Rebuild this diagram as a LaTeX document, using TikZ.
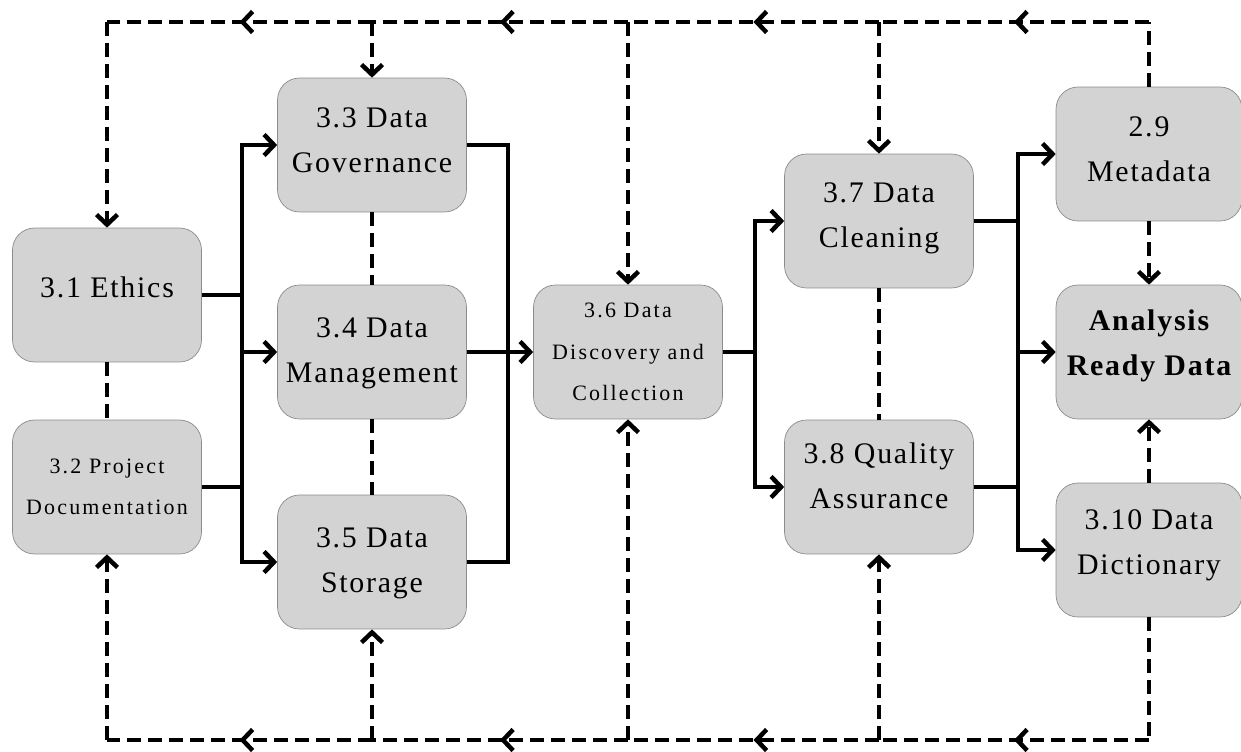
\documentclass[tikz,border=0pt]{standalone}
\usepackage{fontspec}
\setmainfont{Liberation Serif}
\newfontfamily\boxfont[LetterSpace=6]{Liberation Serif}
\newfontfamily\notefont[LetterSpace=10]{Liberation Serif}
\usetikzlibrary{arrows.meta,decorations.markings}
\definecolor{boxgray}{RGB}{211,211,211}
\definecolor{edgegray}{RGB}{140,140,140}
\tikzset{
  stage/.style={draw=edgegray, fill=boxgray, rounded corners=0.44cm,
    minimum width=3.78cm, minimum height=2.68cm, align=center, inner sep=1pt,
    text depth=0.22cm, font=\boxfont\fontsize{17}{25.6}\selectfont},
  stagesmall/.style={stage, text depth=0cm, font=\notefont\fontsize{12.5}{23.5}\selectfont},
  solidline/.style={line width=0.09cm},
  dashline/.style={line width=0.09cm, dash pattern=on 0.28cm off 0.14cm},
  arr/.style={-{Straight Barb[length=0.2cm,width=0.42cm]}},
  midtip/.style={postaction={decorate}, decoration={markings,
    mark=at position 0.5 with {\arrow{Straight Barb[length=0.2cm,width=0.42cm]}}}}
}
\begin{document}
\begin{tikzpicture}[x=0.02cm, y=-0.02cm]
  \useasboundingbox (0,0) rectangle (1241,751);
  % stages
  \node[stage, text depth=0.32cm] (eth) at (107,295) {3.1 Ethics};
  \node[stagesmall] (doc) at (107,487) {3.2 Project\\Documentation};
  \node[stage, text depth=0.18cm] (gov) at (372,145) {3.3 Data\\Governance};
  \node[stage, text depth=0.06cm] (man) at (372,352) {3.4 Data\\Management};
  \node[stage, text depth=0.08cm] (sto) at (372,562) {3.5 Data\\Storage};
  \node[stagesmall] (dis) at (628,352) {3.6 Data\\Discovery and\\Collection};
  \node[stage] (cle) at (879,221) {3.7 Data\\Cleaning};
  \node[stage, text depth=0.44cm] (qua) at (879,487) {3.8 Quality\\Assurance};
  \node[stage, minimum width=3.72cm, text depth=0.18cm] (met) at (1149,154) {2.9\\Metadata};
  \node[stage, minimum width=3.72cm, text depth=0.38cm,
    font=\boxfont\fontsize{17}{25.6}\selectfont\bfseries] (ard) at (1149,352) {Analysis\\Ready Data};
  \node[stage, minimum width=3.72cm, text depth=0.3cm] (dic) at (1149,550) {3.10 Data\\Dictionary};

  % junctions
  \coordinate (ja) at (242,0);
  \coordinate (jb) at (508,0);
  \coordinate (jc) at (755,0);
  \coordinate (jd) at (1018,0);
  \coordinate (upper) at (0,22);
  \coordinate (lower) at (0,740);

  % main flow
  \draw[solidline] (eth.east) -- (eth.east -| ja);
  \draw[solidline] (doc.east) -- (doc.east -| ja);
  \draw[solidline, arr] (man.west -| ja) |- (gov.west);
  \draw[solidline, arr] (man.west -| ja) |- (sto.west);
  \draw[solidline, arr] (man.west -| ja) -- (man.west);
  \draw[solidline] (gov.east) -| (man.east -| jb);
  \draw[solidline] (sto.east) -| (man.east -| jb);
  \draw[solidline, arr] (man.east) -- (dis.west);
  \draw[solidline] (dis.east) -- (dis.east -| jc);
  \draw[solidline, arr] (dis.east -| jc) |- (cle.west);
  \draw[solidline, arr] (dis.east -| jc) |- (qua.west);
  \draw[solidline] (cle.east) -- (cle.east -| jd);
  \draw[solidline] (qua.east) -- (qua.east -| jd);
  \draw[solidline, arr] (ard.west -| jd) |- (met.west);
  \draw[solidline, arr] (ard.west -| jd) |- (dic.west);
  \draw[solidline, arr] (ard.west -| jd) -- (ard.west);

  % links between neighbours
  \draw[dashline] (eth.south) -- (doc.north);
  \draw[dashline] (gov.south) -- (man.north);
  \draw[dashline] (man.south) -- (sto.north);
  \draw[dashline] (cle.south) -- (qua.north);
  \draw[dashline, arr] (met.south) -- (ard.north);
  \draw[dashline, arr] (dic.north) -- (ard.south);

  % feedback along the top
  \draw[dashline] (met.north) -- (met.north |- upper);
  \draw[dashline, midtip] (met.north |- upper) -- (cle.north |- upper);
  \draw[dashline, midtip] (cle.north |- upper) -- (dis.north |- upper);
  \draw[dashline, midtip] (dis.north |- upper) -- (gov.north |- upper);
  \draw[dashline, midtip] (gov.north |- upper) -- (eth.north |- upper);
  \draw[dashline, arr] (eth.north |- upper) -- (eth.north);
  \draw[dashline, arr] (gov.north |- upper) -- (gov.north);
  \draw[dashline, arr] (dis.north |- upper) -- (dis.north);
  \draw[dashline, arr] (cle.north |- upper) -- (cle.north);

  % feedback along the bottom
  \draw[dashline] (dic.south) -- (dic.south |- lower);
  \draw[dashline, midtip] (dic.south |- lower) -- (qua.south |- lower);
  \draw[dashline, midtip] (qua.south |- lower) -- (dis.south |- lower);
  \draw[dashline, midtip] (dis.south |- lower) -- (sto.south |- lower);
  \draw[dashline, midtip] (sto.south |- lower) -- (doc.south |- lower);
  \draw[dashline, arr] (doc.south |- lower) -- (doc.south);
  \draw[dashline, arr] (sto.south |- lower) -- (sto.south);
  \draw[dashline, arr] (dis.south |- lower) -- (dis.south);
  \draw[dashline, arr] (qua.south |- lower) -- (qua.south);
\end{tikzpicture}
\end{document}
